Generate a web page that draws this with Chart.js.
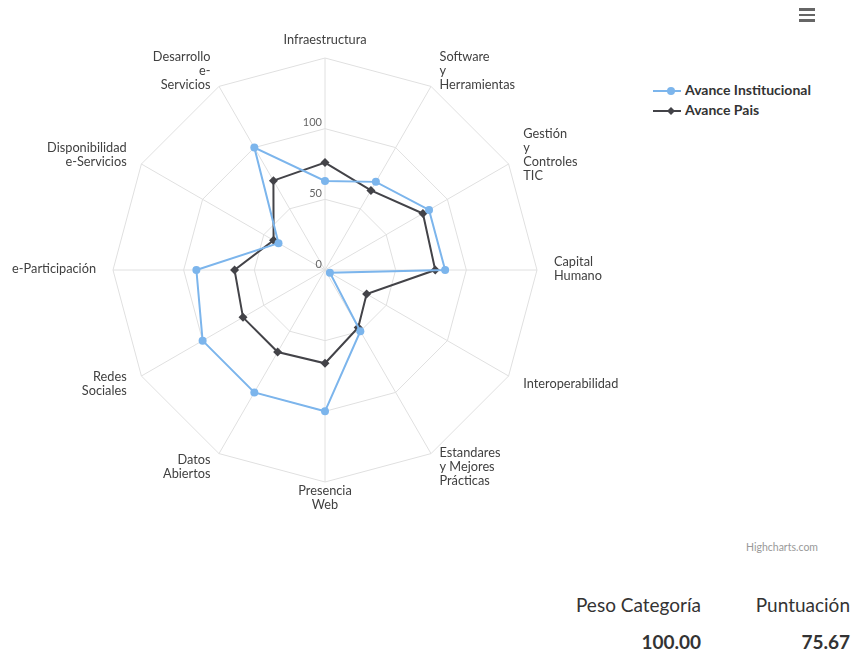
<!DOCTYPE html>
<html>
<head>
<meta charset="utf-8">
<script src="https://cdn.jsdelivr.net/npm/chart.js@4.4.1/dist/chart.umd.min.js"></script>
<style>
  body { margin: 0; background: #fff; font-family: Lato, sans-serif; }
  #page { position: relative; width: 853px; height: 651px; overflow: hidden; }
  #chartBox { position: absolute; left: 0; top: 0; width: 651px; height: 540px; }
  .legend { position: absolute; left: 653px; font: bold 14px Lato, sans-serif; color: #333; }
  .legend div { height: 20px; line-height: 20px; white-space: nowrap; }
  .legend svg { vertical-align: middle; margin-right: 4px; }
  .menu { position: absolute; left: 799px; top: 8px; width: 16px; }
  .menu span { display: block; height: 2.5px; background: #666; margin-bottom: 3px; }
  .credit { position: absolute; left: 746px; top: 541px; font: 10.5px Lato, sans-serif; color: #999; }
  .stats { position: absolute; top: 593px; font-family: Lato, sans-serif; color: #333; text-align: right; }
  .stats .h { font-size: 19px; height: 26px; line-height: 23px; }
  .stats .v { font-size: 19px; line-height: 23px; font-weight: bold; margin-top: 11px; }
</style>
</head>
<body>
<div id="page">
  <div id="chartBox"><canvas id="radar"></canvas></div>
  <div class="legend" style="top:80px">
    <div><svg width="28" height="10"><line x1="0" y1="5" x2="28" y2="5" stroke="#7cb5ec" stroke-width="2"/><circle cx="18" cy="5" r="4" fill="#7cb5ec"/></svg>Avance Institucional</div>
    <div><svg width="28" height="10"><line x1="0" y1="5" x2="28" y2="5" stroke="#434348" stroke-width="2"/><path d="M18 1 L22 5 L18 9 L14 5 Z" fill="#434348"/></svg>Avance Pais</div>
  </div>
  <div class="menu"><span></span><span></span><span></span></div>
  <div class="credit">Highcharts.com</div>
  <div class="stats" style="right:152px"><div class="h">Peso Categoría</div><div class="v">100.00</div></div>
  <div class="stats" style="right:3px"><div class="h">Puntuación</div><div class="v">75.67</div></div>
</div>
<script>
// categories clockwise from the top, split into lines as in the original
const categories = [
  ['Infraestructura'],
  ['Software', 'y', 'Herramientas'],
  ['Gestión', 'y', 'Controles', 'TIC'],
  ['Capital', 'Humano'],
  ['Interoperabilidad'],
  ['Estandares', 'y Mejores', 'Prácticas'],
  ['Presencia', 'Web'],
  ['Datos', 'Abiertos'],
  ['Redes', 'Sociales'],
  ['e-Participación'],
  ['Disponibilidad', 'e-Servicios'],
  ['Desarrollo', 'e-', 'Servicios']
];

const avanceInstitucional = [63, 72, 85, 85, 4, 50, 100, 100, 100, 91, 38, 100];
const avancePais = [76, 65, 80, 78, 34, 47, 66, 67, 67, 64, 42, 73];

const tickValues = [0, 50, 100];
const tickLabels = ['0', '50', '100'];

// draw category labels and y tick labels the way Highcharts places them
const radarLabels = {
    id: 'radarLabels',
    beforeDatasetsDraw(chart) {
        const scale = chart.scales.r;
        const ctx = chart.ctx;
        ctx.save();

        // y axis labels, right aligned just left of the top spoke
        ctx.font = '11px Lato, sans-serif';
        ctx.fillStyle = '#666';
        ctx.textAlign = 'right';
        ctx.textBaseline = 'middle';
        tickValues.forEach((v, i) => {
            const y = scale.yCenter - scale.getDistanceFromCenterForValue(v) - 6;
            ctx.fillText(tickLabels[i], scale.xCenter - 3, y);
        });

        // category labels
        ctx.font = '12.75px Lato, sans-serif';
        ctx.fillStyle = '#404040';
        const lineH = 14;
        categories.forEach((lines, i) => {
            const p = scale.getPointPosition(i, scale.drawingArea + 17);
            const dx = p.x - scale.xCenter;
            ctx.textAlign = Math.abs(dx) < 2 ? 'center' : (dx > 0 ? 'left' : 'right');
            const y0 = p.y - (lines.length - 1) * lineH / 2 - 1;
            lines.forEach((t, j) => ctx.fillText(t, p.x, y0 + j * lineH));
        });
        ctx.restore();
    }
};

function createRadar() {
    const ctx = document.getElementById('radar').getContext('2d');
    new Chart(ctx, {
        type: 'radar',
        data: {
            labels: categories,
            datasets: [{
                label: 'Avance Institucional',
                data: avanceInstitucional,
                borderColor: '#7cb5ec',
                backgroundColor: '#7cb5ec',
                pointBackgroundColor: '#7cb5ec',
                pointBorderWidth: 0,
                pointRadius: 4,
                pointStyle: 'circle',
                borderWidth: 2,
                fill: false
            }, {
                label: 'Avance Pais',
                data: avancePais,
                borderColor: '#434348',
                backgroundColor: '#434348',
                pointBackgroundColor: '#434348',
                pointBorderWidth: 0,
                pointRadius: 4.5,
                pointStyle: 'rectRot',
                borderWidth: 2,
                fill: false
            }]
        },
        options: {
            responsive: true,
            maintainAspectRatio: false,
            animation: false,
            layout: { padding: { left: 113, right: 113, top: 58, bottom: 57 } },
            plugins: {
                legend: { display: false },
                tooltip: { enabled: false }
            },
            scales: {
                r: {
                    min: 0,
                    max: 150,
                    ticks: { stepSize: 50, display: false },
                    grid: { color: '#e0e0e0', lineWidth: 1 },
                    angleLines: { color: '#e0e0e0', lineWidth: 1 },
                    pointLabels: { display: false }
                }
            }
        },
        plugins: [radarLabels]
    });
}

document.addEventListener('DOMContentLoaded', createRadar);
</script>
</body>
</html>
